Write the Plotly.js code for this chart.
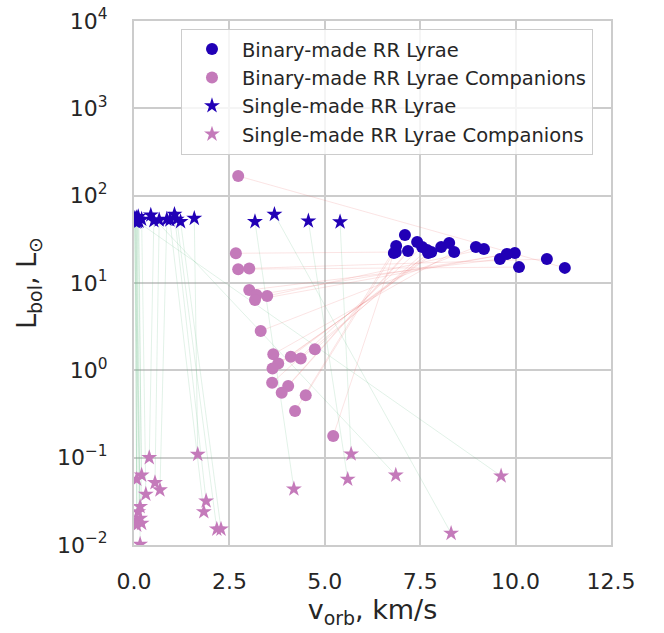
<!DOCTYPE html>
<html>
<head>
<meta charset="utf-8">
<script src="https://cdn.plot.ly/plotly-3.0.1.min.js"></script>
<style>
  html, body { margin: 0; padding: 0; background: #ffffff; }
  #chart { width: 664px; height: 633px; }
</style>
</head>
<body>
<div id="chart"></div>
<script>
// RR Lyrae formed through binary evolution (orbital velocity, km/s; bolometric luminosity, Lsun)
const binaryRRv = [11.29, 6.86, 10.09, 10.82, 9.59, 9.98, 9.77, 9.17, 8.96, 8.39, 8.26,
                   8.05, 7.79, 7.71, 7.68, 7.55, 7.42, 7.18, 7.10, 6.87, 6.81];
const binaryRRL = [14.9, 22.6, 15.2, 18.8, 18.8, 22.1, 21.5, 24.5, 25.8, 22.7, 28.7,
                   25.8, 22.7, 22.1, 23.9, 25.8, 29.5, 23.3, 35.5, 26.5, 22.1];
// their companions, same order as above
const binaryCompV = [2.73, 2.67, 2.73, 3.02, 3.02, 3.21, 3.17, 3.49, 3.32, 3.65, 3.78,
                     3.63, 4.11, 4.37, 4.74, 3.62, 4.04, 3.87, 4.50, 4.22, 5.22];
const binaryCompL = [168, 21.9, 14.4, 14.7, 8.3, 7.3, 6.4, 7.1, 2.82, 1.53, 1.20,
                     1.05, 1.43, 1.37, 1.74, 0.72, 0.66, 0.555, 0.52, 0.342, 0.177];

// RR Lyrae formed from single stars
const singleRRv = [1.58, 3.17, 3.68, 4.57, 5.40, 0.44, 0.03, 1.22, 1.12, 1.06, 0.94, 0.86,
                   0.66, 0.52, 0.20, 0.11, 0.02, 0.05, 0.08, 0.01, 0.06, 0.13, 0.04, 0.09];
const singleRRL = [55, 50.4, 61, 51.3, 50, 60, 52.7, 50.4, 53.7, 61, 52.7, 53.7,
                   52.7, 51.7, 53.7, 57.5, 55, 50, 54, 51, 56, 51, 53, 50.5];
// their companions, same order as above
const singleCompV = [1.67, 4.19, 8.31, 5.60, 5.69, 6.86, 9.62, 2.28, 2.17, 1.89, 1.83, 0.68,
                     0.55, 0.40, 0.31, 0.20, 0.07, 0.16, 0.11, 0.16, 0.07, 0.20, 0.07, 0.16];
const singleCompL = [0.109, 0.0438, 0.0136, 0.0565, 0.110, 0.063, 0.0617, 0.0152, 0.0152, 0.0319, 0.024, 0.0427,
                     0.0517, 0.100, 0.0381, 0.063, 0.0565, 0.0275, 0.024, 0.0202, 0.0193, 0.0177, 0.0169, 0.0102];

const yTickVals = [0.01, 0.1, 1, 10, 100, 1000, 10000];
const yTickText = ['10<sup>\u22122</sup>', '10<sup>\u22121</sup>', '10<sup>0</sup>', '10<sup>1</sup>',
                   '10<sup>2</sup>', '10<sup>3</sup>', '10<sup>4</sup>'];
const xTickVals = [0, 2.5, 5, 7.5, 10, 12.5];
const xTickText = ['0.0', '2.5', '5.0', '7.5', '10.0', '12.5'];

const BLUE = '#2100b6';
const PINK = '#c47aba';
const INK = '#262626';
const GRID = '#cccccc';
const FONT = 'DejaVu Sans';

// join each star to its companion: segments separated by gaps
function pairSegments(x0, y0, x1, y1) {
  const xs = [], ys = [];
  for (let i = 0; i < x0.length; i++) {
    xs.push(x0[i], x1[i], null);
    ys.push(y0[i], y1[i], null);
  }
  return { xs, ys };
}

const bSeg = pairSegments(binaryRRv, binaryRRL, binaryCompV, binaryCompL);
const sSeg = pairSegments(singleRRv, singleRRL, singleCompV, singleCompL);

const traces = [
  { x: bSeg.xs, y: bSeg.ys, mode: 'lines', showlegend: false, hoverinfo: 'skip',
    line: { color: 'rgba(235,120,120,0.2)', width: 1 } },
  { x: sSeg.xs, y: sSeg.ys, mode: 'lines', showlegend: false, hoverinfo: 'skip',
    line: { color: 'rgba(110,190,140,0.2)', width: 1 } },
  { x: binaryRRv, y: binaryRRL, mode: 'markers', name: 'Binary-made RR Lyrae', legendgroup: 'a',
    marker: { symbol: 'circle', size: 12, color: BLUE } },
  { x: binaryCompV, y: binaryCompL, mode: 'markers', name: 'Binary-made RR Lyrae Companions', legendgroup: 'b',
    marker: { symbol: 'circle', size: 12, color: PINK } },
  { x: singleRRv, y: singleRRL, mode: 'markers', name: 'Single-made RR Lyrae', legendgroup: 'c',
    marker: { symbol: 'star', size: 12, color: BLUE } },
  { x: singleCompV, y: singleCompL, mode: 'markers', name: 'Single-made RR Lyrae Companions', legendgroup: 'd',
    marker: { symbol: 'star', size: 12, color: PINK } }
];

const layout = {
  width: 664, height: 633,
  margin: { l: 134, r: 53, t: 21, b: 88 },
  paper_bgcolor: '#ffffff', plot_bgcolor: '#ffffff',
  font: { family: FONT, color: INK },
  showlegend: true,
  legend: {
    x: 0.0985, y: 0.985, xanchor: 'left', yanchor: 'top',
    bgcolor: 'rgba(255,255,255,0.8)', bordercolor: GRID, borderwidth: 1,
    font: { family: FONT, size: 19.5, color: INK },
    itemwidth: 50, tracegroupgap: 0
  },
  xaxis: {
    range: [0, 12.5], tickmode: 'array', tickvals: xTickVals, ticktext: xTickText,
    showgrid: true, gridcolor: GRID, gridwidth: 2,
    showline: true, mirror: true, linecolor: GRID, linewidth: 2,
    zeroline: false, ticks: '', ticklabelstandoff: 16,
    tickfont: { family: FONT, size: 22, color: INK },
    title: { text: 'v<sub>orb</sub>, km/s', font: { family: FONT, size: 27, color: INK }, standoff: 6 }
  },
  yaxis: {
    type: 'log', range: [-2, 4], tickmode: 'array', tickvals: yTickVals, ticktext: yTickText,
    showgrid: true, gridcolor: GRID, gridwidth: 2,
    showline: true, mirror: true, linecolor: GRID, linewidth: 2,
    zeroline: false, ticks: '', ticklabelstandoff: 20,
    tickfont: { family: FONT, size: 22, color: INK },
    title: { text: 'L<sub>bol</sub>, L<sub>\u2299</sub>', font: { family: FONT, size: 27, color: INK }, standoff: 12 }
  }
};

Plotly.newPlot('chart', traces, layout, { displayModeBar: false, staticPlot: true });
</script>
</body>
</html>
